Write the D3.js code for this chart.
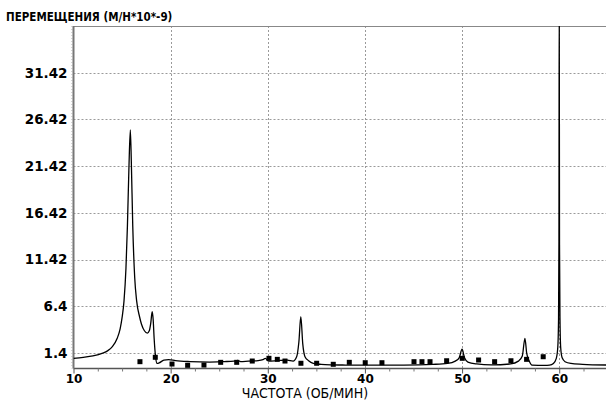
<!DOCTYPE html>
<html><head><meta charset="utf-8">
<script src="https://cdn.jsdelivr.net/npm/d3@7"></script>
<style>html,body{margin:0;padding:0;background:#fff;}svg{display:block;}</style>
</head><body>
<svg id="c" width="606" height="400"></svg>
<script>
const title = "ПЕРЕМЕЩЕНИЯ (М/Н*10*-9)";
const xTitle = "ЧАСТОТА (ОБ/МИН)";
const xTicks = [10, 20, 30, 40, 50, 60];
const xMinorTicks = [12.5, 15, 17.5, 22.5, 25, 27.5, 32.5, 35, 37.5, 42.5, 45, 47.5, 52.5, 55, 57.5, 62.5];
const yTicks = [1.42, 6.42, 11.42, 16.42, 21.42, 26.42, 31.42];
const yTickLabels = ["1.4", "6.4", "11.42", "16.42", "21.42", "26.42", "31.42"];
const curveFreq = [10, 11, 12, 13, 13.5, 14, 14.5, 14.8, 15.0, 15.2, 15.4, 15.55, 15.7, 15.85, 15.95, 16.1, 16.3, 16.5, 16.8, 17.0, 17.3, 17.6, 17.8, 17.95, 18.1, 18.2, 18.3, 18.45, 18.6, 18.8, 19.3, 19.8, 20.5, 22, 24, 25.5, 26.5, 26.9, 27.2, 28, 29, 29.5, 29.75, 30.1, 31, 32, 32.6, 32.97, 33.2, 33.4, 33.6, 33.83, 34.2, 34.68, 35.5, 36.5, 38, 40, 44, 47, 48.5, 49.3, 49.7, 50.0, 50.25, 50.6, 51.5, 53, 55, 55.8, 56.2, 56.47, 56.65, 56.9, 57.2, 58.5, 59.0, 59.4, 59.7, 59.85, 59.93, 59.97, 60.0, 60.03, 60.08, 60.15, 60.3, 60.6, 61.2, 62.4, 65];
const curveValue = [0.85, 0.95, 1.1, 1.4, 1.65, 2.1, 3.0, 4.0, 5.2, 7.0, 10.5, 15, 21, 25.3, 22, 15, 9.5, 7.0, 5.3, 4.5, 3.8, 3.55, 3.8, 4.6, 5.84, 5.0, 3.0, 1.0, 0.3, 0.35, 0.65, 0.7, 0.6, 0.5, 0.45, 0.5, 0.55, 0.62, 0.5, 0.55, 0.6, 0.7, 0.85, 0.55, 0.6, 0.65, 0.56, 1.02, 2.6, 5.3, 2.4, 1.02, 0.6, 0.32, 0.2, 0.15, 0.13, 0.12, 0.13, 0.2, 0.3, 0.55, 0.9, 1.82, 0.9, 0.45, 0.25, 0.15, 0.25, 0.55, 1.1, 2.99, 1.4, 0.6, 0.13, 0.1, 0.13, 0.3, 0.85, 2.0, 5.0, 13.4, 40, 13.0, 5.0, 2.0, 0.9, 0.49, 0.3, 0.21, 0.13];
const pointFreq = [16.84, 18.42, 20.14, 21.75, 23.43, 25.15, 26.80, 28.40, 30.12, 30.98, 31.77, 33.41, 35.03, 36.74, 38.39, 40.03, 41.75, 45.05, 45.87, 46.70, 48.41, 50.02, 51.70, 53.35, 55.03, 56.64, 58.35];
const pointValue = [0.49, 0.96, 0.24, 0.10, 0.13, 0.42, 0.42, 0.56, 0.85, 0.74, 0.56, 0.32, 0.32, 0.21, 0.42, 0.38, 0.38, 0.49, 0.49, 0.49, 0.59, 0.85, 0.67, 0.49, 0.59, 0.74, 1.02];

const svg = d3.select("#c");
const L = 73.5, R = 607.8, T = 26, B = 368.5;
const x = d3.scaleLinear().domain([10, 65]).range([L, R]);
const y = d3.scaleLinear().domain([-0.24, 36.42]).range([B, T]);
const condensed = "'DejaVu Sans Condensed', 'DejaVu Sans', Verdana, sans-serif";
const wide = "'DejaVu Sans', Verdana, sans-serif";

svg.append("defs").append("clipPath").attr("id", "clip")
  .append("rect").attr("x", L).attr("y", T).attr("width", 606 - L).attr("height", B - T);

// grid
const grid = svg.append("g");
grid.selectAll("line.h").data(yTicks).join("line")
  .attr("x1", L).attr("x2", 606).attr("y1", d => Math.round(y(d)) + 0.5).attr("y2", d => Math.round(y(d)) + 0.5)
  .attr("stroke", "#9a9a9a").attr("stroke-width", 1).attr("stroke-dasharray", "2,2");
grid.selectAll("line.v").data(xTicks.slice(1)).join("line")
  .attr("y1", T).attr("y2", B).attr("x1", d => Math.round(x(d)) + 0.5).attr("x2", d => Math.round(x(d)) + 0.5)
  .attr("stroke", "#9a9a9a").attr("stroke-width", 1).attr("stroke-dasharray", "2,2");

// frame
svg.append("line").attr("x1", L).attr("x2", 606).attr("y1", T + 0.5).attr("y2", T + 0.5).attr("stroke", "#888");

// axes
const xAxis = d3.axisBottom(x).tickValues(xTicks).tickSize(5).tickFormat(d3.format("d"));
const gx = svg.append("g").attr("transform", `translate(0,${B})`).call(xAxis);
gx.select(".domain").attr("stroke", "#555").attr("stroke-width", 1.5).attr("d", `M${L},0H606`);
gx.selectAll(".tick line").attr("stroke", "#555");
gx.selectAll(".tick text").attr("font-family", wide).attr("font-weight", "bold").attr("font-size", 12).attr("fill", "#000").attr("dy", "0.55em");
const gxm = svg.append("g").attr("transform", `translate(0,${B})`)
  .call(d3.axisBottom(x).tickValues(xMinorTicks).tickSize(3).tickFormat(""));
gxm.select(".domain").remove();
gxm.selectAll(".tick line").attr("stroke", "#777");

const yAxis = d3.axisLeft(y).tickValues(yTicks).tickSize(0).tickPadding(6).tickFormat((d, i) => yTickLabels[i]);
const gy = svg.append("g").attr("transform", `translate(${L},0)`).call(yAxis);
gy.select(".domain").attr("stroke", "#777").attr("stroke-width", 2).attr("d", `M0,${T}V${B}`);
gy.selectAll(".tick text").attr("font-family", wide).attr("font-weight", "bold").attr("font-size", 13.5).attr("fill", "#000");
svg.append("line").attr("x1", L - 1.5).attr("x2", L - 1.5).attr("y1", T).attr("y2", B)
  .attr("stroke", "#aaa").attr("stroke-width", 1).attr("stroke-dasharray", "1,2");

// curve
const data = curveFreq.map((f, i) => [f, curveValue[i]]);
svg.append("path").datum(data).attr("clip-path", "url(#clip)")
  .attr("fill", "none").attr("stroke", "#000").attr("stroke-width", 1.3)
  .attr("d", d3.line().x(d => x(d[0])).y(d => y(d[1])).curve(d3.curveMonotoneX));

// points
const pts = pointFreq.map((f, i) => [f, pointValue[i]]);
svg.append("g").selectAll("rect").data(pts).join("rect")
  .attr("x", d => x(d[0]) - 2.5).attr("y", d => y(d[1]) - 2.5).attr("width", 5).attr("height", 5).attr("fill", "#000");

// titles
svg.append("text").attr("x", 6).attr("y", 21).text(title)
  .attr("font-family", condensed).attr("font-weight", "bold").attr("font-size", 11.5);
svg.append("text").attr("x", 305).attr("y", 398).attr("text-anchor", "middle").text(xTitle)
  .attr("font-family", condensed).attr("font-size", 14);
</script>
</body></html>
